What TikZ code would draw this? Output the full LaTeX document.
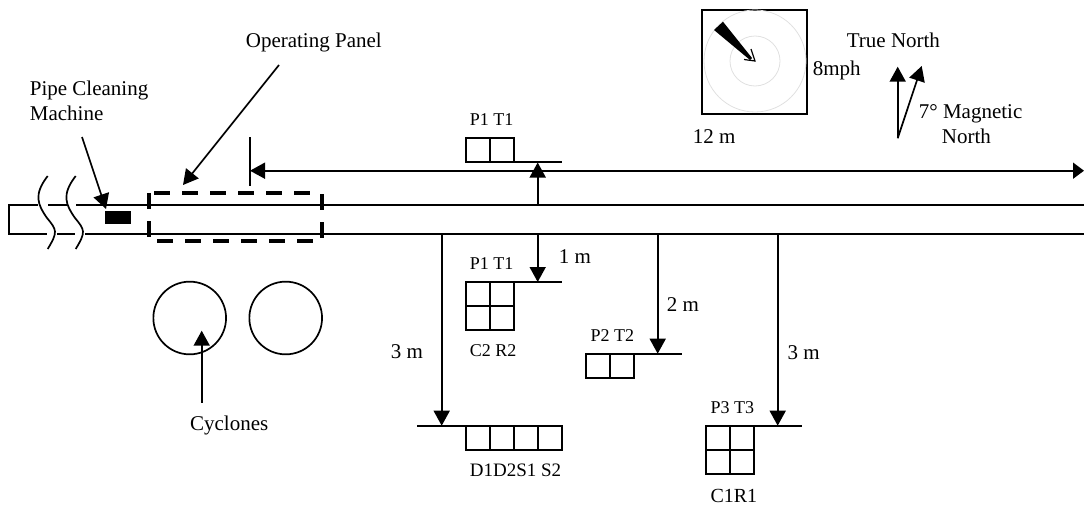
\documentclass[tikz,border=0pt]{standalone}
\usepackage{fontspec}
\setmainfont{Liberation Serif}
\usetikzlibrary{arrows.meta}
\tikzset{
  x=1pt,y=-1pt,
  every path/.style={line width=1.7pt},
  solidhead/.style={-{Triangle[length=15pt,width=16pt]}},
  lbl/.style={anchor=base west,inner sep=0pt,font=\fontsize{21}{21}\selectfont},
  smalllbl/.style={anchor=base west,inner sep=0pt,font=\fontsize{18}{18}\selectfont},
  tinylbl/.style={anchor=base west,inner sep=0pt,font=\fontsize{19}{19}\selectfont},
  cell/.style={draw,line width=1.7pt,minimum size=24pt,inner sep=0pt,outer sep=0pt,anchor=north west},
  panel/.style={line width=3.4pt,dash pattern=on 16pt off 12pt},
  ring/.style={draw=black!12,line width=0.8pt},
}
\begin{document}
\begin{tikzpicture}
\useasboundingbox (0,0) rectangle (1084,506);
% pipe
\draw (48,205) -- (67,205);
\draw (76,205) -- (1084,205);
\draw (38,205) -- (9,205) -- (9,234) -- (47,234);
\draw (57,234) -- (75,234);
\draw (85,234) -- (1084,234);
% breaks
\draw (47.7,176) .. controls (33,195) and (38,205) .. (47,218) .. controls (57,230) and (58,232) .. (47.7,249);
\draw (75.7,176) .. controls (61,195) and (66,205) .. (75,218) .. controls (85,230) and (86,232) .. (75.7,249);
% machine
\node[fill=black,minimum width=26pt,minimum height=13pt,inner sep=0pt] (machine) at (118,217.5) {};
\node[lbl] (pipeA) at (29,95) {Pipe Cleaning};
\node[lbl] (pipeB) at (29,120) {Machine};
\coordinate (pipeFrom) at (82,137);
\coordinate (pipeTip) at (106,209);
\draw[solidhead] (pipeFrom) -- (pipeTip);
% operating panel
\draw[panel] (154,193) -- (312,193);
\draw[panel] (157,241) -- (315,241);
\draw[panel] (149,193) -- (149,237);
\draw[panel] (322,194) -- (322,238);
\node[lbl] (oplabel) at (245,47) {Operating Panel};
\coordinate (opFrom) at (279,65);
\coordinate (opTip) at (183,185);
\draw[solidhead] (opFrom) -- (opTip);
% dimension
\coordinate (tickTop) at (250,137);
\coordinate (tickBot) at (250,186);
\draw (tickTop) -- (tickBot);
\coordinate (dimL) at (250,170.7);
\coordinate (dimR) at (1084,170.7);
\draw[{Triangle[length=15pt,width=16pt]}-{Triangle[length=11pt,width=16pt]}] (dimL) -- (dimR);
\node[lbl] (twelve) at (692,143) {12 m};
% wind
\node[draw,line width=2pt,minimum width=105pt,minimum height=104pt,inner sep=0pt] (windbox) at (754.5,62) {};
\draw[ring] (755,61) circle (51);
\draw[ring] (755,61) circle (25);
\fill (714,30) -- (723,21.7) -- (752,58) -- (750,60) -- cycle;
\coordinate (windTip) at (755,61);
\draw[line width=1.2pt] (744,59.5) -- (755,61) -- (751,49);
\node[lbl] (mph) at (812,75) {8mph};
% north
\node[lbl] (tn) at (846,47) {True North};
\coordinate (nBase) at (897.7,138.3);
\coordinate (tnTip) at (897.7,66.7);
\coordinate (mnTip) at (921.7,66);
\draw[solidhead] (nBase) -- (tnTip);
\draw[solidhead] (nBase) -- (mnTip);
\node[lbl] (mnA) at (918,118.7) {7° Magnetic};
\node[lbl] (mnB) at (941,143) {North};
% P1 T1 above
\node[cell] (a1) at (465.7,137.7) {};
\node[cell] (a2) at (a1.north east) {};
\coordinate (aEnd) at (562,161.7);
\draw (a2.south east) -- (aEnd);
\coordinate (aFrom) at (537.7,205);
\coordinate (aTip) at (537.7,162.5);
\draw[solidhead] (aFrom) -- (aTip);
\node[smalllbl] (aL) at (469,125) {P1 T1};
% P1 T1 below
\node[cell] (b1) at (465.7,282) {};
\node[cell] (b2) at (b1.north east) {};
\node[cell] (b3) at (b1.south west) {};
\node[cell] (b4) at (b1.south east) {};
\coordinate (bEnd) at (562,282);
\draw (b2.north east) -- (bEnd);
\coordinate (bFrom) at (537.7,234);
\coordinate (bTip) at (537.7,282);
\draw[solidhead] (bFrom) -- (bTip);
\node[smalllbl] (bL) at (469,269) {P1 T1};
\node[smalllbl] (bL2) at (469,356.7) {C2 R2};
\node[lbl] (oneM) at (558,263) {1 m};
% D S
\node[cell] (c1) at (465.7,425.7) {};
\node[cell] (c2) at (c1.north east) {};
\node[cell] (c3) at (c2.north east) {};
\node[cell] (c4) at (c3.north east) {};
\coordinate (cStart) at (417,425.7);
\draw (cStart) -- (c1.north west);
\coordinate (cFrom) at (441.7,234);
\coordinate (cTip) at (441.7,425.7);
\draw[solidhead] (cFrom) -- (cTip);
\node[tinylbl] (cL) at (469,476.7) {D1D2S1 S2};
\node[lbl] (threeA) at (390,358) {3 m};
% P2 T2
\node[cell] (d1) at (585.7,353.7) {};
\node[cell] (d2) at (d1.north east) {};
\coordinate (dEnd) at (682,353.7);
\draw (d2.north east) -- (dEnd);
\coordinate (dFrom) at (657.7,234);
\coordinate (dTip) at (657.7,353.7);
\draw[solidhead] (dFrom) -- (dTip);
\node[smalllbl] (dL) at (589.7,341) {P2 T2};
\node[lbl] (twoM) at (666,311) {2 m};
% P3 T3
\node[cell] (e1) at (705.7,425.7) {};
\node[cell] (e2) at (e1.north east) {};
\node[cell] (e3) at (e1.south west) {};
\node[cell] (e4) at (e1.south east) {};
\coordinate (eEnd) at (802,425.7);
\draw (e2.north east) -- (eEnd);
\coordinate (eFrom) at (777.7,234);
\coordinate (eTip) at (777.7,425.7);
\draw[solidhead] (eFrom) -- (eTip);
\node[smalllbl] (eL) at (709.7,413) {P3 T3};
\node[lbl,font=\fontsize{20}{20}\selectfont] (eL2) at (709.7,502) {C1R1};
\node[lbl] (threeB) at (786.7,359) {3 m};
% cyclones
\node[draw,circle,line width=1.7pt,minimum size=72.7pt,inner sep=0pt] (cy1) at (189.7,318) {};
\node[draw,circle,line width=1.7pt,minimum size=72.7pt,inner sep=0pt] (cy2) at (285.7,318) {};
\coordinate (cyFrom) at (201.7,402.7);
\coordinate (cyTip) at (201.7,330.7);
\draw[solidhead] (cyFrom) -- (cyTip);
\node[lbl] (cyL) at (189.3,430.7) {Cyclones};
\end{tikzpicture}
\end{document}
